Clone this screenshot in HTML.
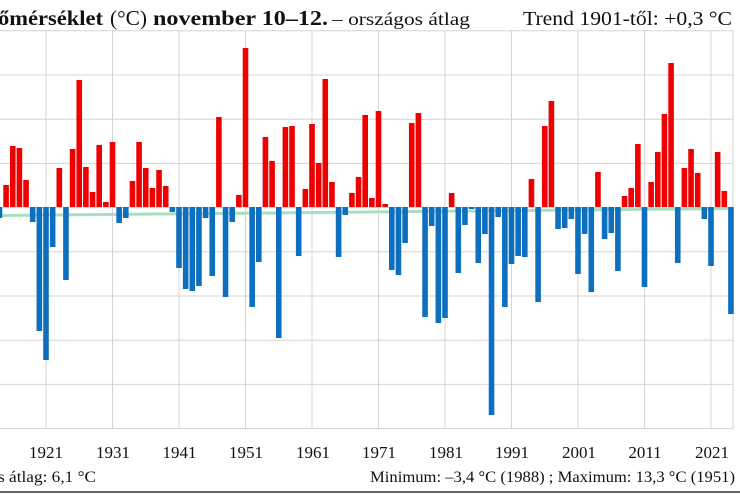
<!DOCTYPE html>
<html><head><meta charset="utf-8"><style>
html,body{margin:0;padding:0;background:#fff;width:740px;height:494px;overflow:hidden}
svg{display:block}
text{font-family:"Liberation Serif",serif;fill:#111}
</style></head><body>
<svg id="s" width="740" height="494" xmlns="http://www.w3.org/2000/svg">
<g id="grid" stroke="#d4d4d4" stroke-width="1"></g>
<line x1="0" y1="215.5" x2="733" y2="208.5" stroke="#a8dfc0" stroke-width="3"/>
<g id="bars"></g>
<text x="-2" y="25" font-size="21" font-weight="bold" textLength="105" lengthAdjust="spacingAndGlyphs">őmérséklet</text>
<text x="110" y="25" font-size="21" textLength="37" lengthAdjust="spacingAndGlyphs">(°C)</text>
<text x="153" y="25" font-size="21" font-weight="bold" textLength="175" lengthAdjust="spacingAndGlyphs">november 10–12.</text>
<text x="332" y="25" font-size="18" textLength="138" lengthAdjust="spacingAndGlyphs">– országos átlag</text>
<text x="523" y="25" font-size="20" textLength="209" lengthAdjust="spacingAndGlyphs">Trend 1901-től: +0,3 °C</text>
<g font-size="17" text-anchor="middle">
<text x="46" y="458">1921</text><text x="113" y="458">1931</text><text x="179.5" y="458">1941</text>
<text x="246" y="458">1951</text><text x="313" y="458">1961</text><text x="379" y="458">1971</text>
<text x="446" y="458">1981</text><text x="512" y="458">1991</text><text x="579" y="458">2001</text>
<text x="645" y="458">2011</text><text x="712" y="458">2021</text>
</g>
<text x="-2" y="482" font-size="16" textLength="98" lengthAdjust="spacingAndGlyphs">s átlag:  6,1 °C</text>
<text x="370" y="482" font-size="16" textLength="365" lengthAdjust="spacingAndGlyphs">Minimum:  –3,4 °C (1988) ; Maximum:  13,3 °C (1951)</text>
<line x1="0" y1="492" x2="740" y2="492" stroke="#666" stroke-width="2"/>
</svg>
<script>
var ns="http://www.w3.org/2000/svg";
function el(p,t,a){var e=document.createElementNS(ns,t);for(var k in a)e.setAttribute(k,a[k]);p.appendChild(e);return e;}
var g=document.getElementById("grid");
for(var i=0;i<10;i++){var y=30.8+i*44.2;el(g,"line",{x1:0,x2:733,y1:y,y2:y});}
for(var yr=1921;yr<=2021;yr+=10){var x=46+(yr-1921)*6.65;el(g,"line",{x1:x,x2:x,y1:31,y2:429});}
el(g,"line",{x1:733,x2:733,y1:31,y2:429});
var d=[218,185,146,148,180,222,331,360,247,168,280,149,80,167,192,145,202,142,223,218,181,142,168,188,170,186,212,268,289,291,286,218,276,117,297,222,195,48,307,262,137,161,338,127,126,256,189,124,163,79,182,257,215,193,177,115,198,111,204,270,275,243,123,113,317,226,323,318,193,273,225,209,263,234,415,217,307,264,256,257,179,302,126,101,229,228,219,274,234,292,172,239,233,271,196,188,144,287,182,152,114,63,263,168,149,173,219,266,152,191,314];
var b=document.getElementById("bars"),z=207;
for(var i=0;i<d.length;i++){var yr=1914+i,x=46+(yr-1921)*6.65-2.8,v=d[i];
if(v<z)el(b,"rect",{x:x,y:v,width:5.6,height:z-v,fill:"#ee0000"});
else el(b,"rect",{x:x,y:z,width:5.6,height:v-z,fill:"#0f6fbf"});}
</script>
</body></html>
